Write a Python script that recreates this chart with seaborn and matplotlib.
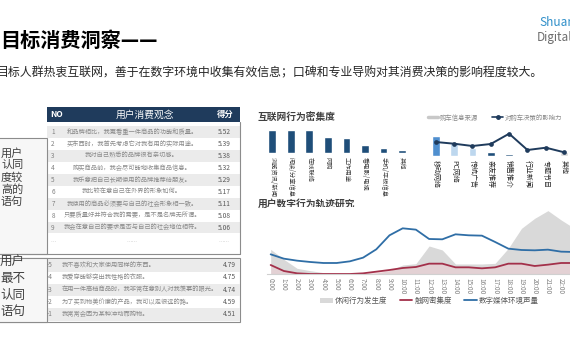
import numpy as np
import pandas as pd
import matplotlib
matplotlib.use("Agg")
import matplotlib.pyplot as plt
import seaborn as sns
from matplotlib.lines import Line2D
from matplotlib.patches import Rectangle, Patch

# ---- data -------------------------------------------------------------
high_no = [1, 2, 3, 4, 5, 6, 7, 8, 9]
high_items = [
    "和品牌相比，我更看重一件商品的功能和质量。",
    "买东西时，我首先考虑它对我有用的实际用途。",
    "我对自己熟悉的品牌很有亲切感。",
    "购买商品前，我会尽可能地收集商品信息。",
    "我乐意把自己长期使用的品牌推荐给朋友。",
    "我比较在意自己在外界的形象如何。",
    "我使用的商品必须要与自己的社会形象相一致。",
    "只要质量好并符合我的需要，是不是名牌无所谓。",
    "我会在意自己的要求是否与自己的社会地位相符。",
]
high_scores = [5.52, 5.39, 5.38, 5.32, 5.29, 5.17, 5.11, 5.08, 5.06]

low_no = [-5, -4, -3, -2, -1]
low_items = [
    "我不喜欢和大家使用同样的东西。",
    "我爱穿能够突出我性格的衣服。",
    "在用一件高档商品时，我非常在意别人对我羡慕的眼光。",
    "为了买到物美价廉的产品，我可以走很远的路。",
    "我常常会因为某种冲动而购物。",
]
low_scores = [4.79, 4.75, 4.74, 4.59, 4.51]

net_labels = ["浏览资讯/新闻", "阅读/分享信息", "在线联络", "网购", "工作用途",
              "看电影/电视", "手机/平板信息", "其他"]
net_values = [23.1, 22.9, 22.6, 16.2, 14.8, 8.1, 4.9, 3.0]

src_labels = ["移动网络", "PC网络", "传统广告", "亲友推荐", "销售推介",
              "行业新闻", "专题节目", "其他"]
src_share = [20.0, 13.3, 8.0, 4.0, 2.0, 1.0, 0.8, 3.5]
src_influence = [13.7, 12.0, 9.7, 11.7, 22.0, 5.7, 8.0, 3.4]

hours = [f"{h}:00" for h in range(24)]
leisure = [74, 44, 17, 10, 4, 2, 1, 1, 3, 10, 27, 31, 84, 72, 30, 30, 30, 32,
           77, 137, 167, 190, 162, 137]
touch = [27, 9, 2, 0, 0, 0, 0, 2, 7, 12, 18, 21, 31, 31, 20, 20, 17, 20,
         31, 31, 24, 28, 33, 33]
media = [59, 46, 40, 36, 33, 33, 38, 49, 74, 116, 137, 133, 105, 104, 119,
         116, 115, 96, 76, 72, 71, 73, 67, 66]

# ---- style ------------------------------------------------------------
sns.set_style("white")
plt.rcParams["font.family"] = ["Noto Sans CJK SC", "DejaVu Sans"]

W, H = 570, 360
NAVY = "#1f3b5c"
src_colors = ["#4f8fcf", "#bdd7ee", "#bdd7ee", "#1f4e79", "#1f4e79",
              "#d9d9d9", "#d9d9d9", "#d9d9d9"]


def rect(x0, y0, x1, y1):
    return [x0 / W, 1 - y1 / H, (x1 - x0) / W, (y1 - y0) / H]


fig = plt.figure(figsize=(W / 100, H / 100), dpi=100)

# background canvas in pixel coords for titles and the table
bg = fig.add_axes([0, 0, 1, 1])
bg.set_xlim(0, W)
bg.set_ylim(H, 0)
bg.axis("off")

bg.text(0, 40, "目标消费洞察——", fontsize=14.5, fontweight="bold",
        color="black", va="center", ha="left")
bg.text(-4, 73, "目标人群热衷互联网，善于在数字环境中收集有效信息；口碑和专业导购对其消费决策的影响程度较大。",
        fontsize=8.6, color="#262626", va="center", ha="left")
# logo
bg.text(539, 23, "Shuan", fontsize=8.5, color="#2f8fc9", va="center", ha="left")
bg.text(537, 37, "Digital", fontsize=8.5, color="#6d6d6d", va="center", ha="left")

# ---- table (upper block) ---------------------------------------------
gray_line = "#8c8c8c"
bg.add_patch(Rectangle((47, 107), 193, 15, color=NAVY, lw=0))
bg.text(50, 114.5, "NO", fontsize=6, color="white", fontweight="bold",
        style="italic", va="center")
bg.text(145, 114.5, "用户消费观念", fontsize=7, color="white", va="center", ha="center")
bg.text(225, 114.5, "得分", fontsize=6, color="white", fontweight="bold",
        va="center", ha="center")

row_h = 11.9
for i, (no, item, sc) in enumerate(zip(high_no, high_items, high_scores)):
    yc = 132.3 + i * row_h
    if i % 2 == 0:
        bg.add_patch(Rectangle((47, yc - row_h / 2), 193, row_h, color="#ebebeb", lw=0))
    bg.text(53, yc, str(no), fontsize=4.6, color="#7f7f7f", va="center", ha="center")
    bg.text(132, yc, item, fontsize=4.5, color="#8a8a8a", va="center", ha="center")
    bg.text(224, yc, f"{sc:.2f}", fontsize=4.8, color="#595959", va="center", ha="center")
dots_y = 132.3 + 9 * row_h + 3
bg.text(53, dots_y, "…", fontsize=4, color="#a6a6a6", va="center", ha="center")
bg.text(132, dots_y, "……", fontsize=4, color="#a6a6a6", va="center", ha="center")
bg.text(224, dots_y, "……", fontsize=4, color="#a6a6a6", va="center", ha="center")

bg.add_patch(Rectangle((-2, 138), 48.5, 116, facecolor="#f7f7f7",
                       edgecolor=gray_line, lw=0.8))
bg.plot([240, 240], [122, 254], color=gray_line, lw=0.8)
bg.plot([-2, 240], [254, 254], color=gray_line, lw=0.8)
for j, t in enumerate(["用户", "认同", "度较", "高的", "语句"]):
    bg.text(1, 153 + j * 12.2, t, fontsize=8, color="#404040", va="center", ha="left")

# ---- table (lower block) ---------------------------------------------
row_h2 = 12.3
bg.add_patch(Rectangle((-2, 258), 242, 64, facecolor="white",
                       edgecolor=gray_line, lw=0.8))
for i, (no, item, sc) in enumerate(zip(low_no, low_items, low_scores)):
    yc = 265 + i * row_h2
    if i % 2 == 0:
        bg.add_patch(Rectangle((47, yc - row_h2 / 2 + 0.4), 192.5, row_h2, color="#ebebeb", lw=0))
    bg.text(50, yc, str(no), fontsize=4.6, color="#7f7f7f", va="center", ha="center")
    bg.text(62, yc, item, fontsize=4.5, color="#8a8a8a", va="center", ha="left")
    bg.text(236, yc, f"{sc:.2f}", fontsize=4.8, color="#595959", va="center", ha="right")
bg.add_patch(Rectangle((-2, 258), 48.5, 64, facecolor="#f7f7f7",
                       edgecolor=gray_line, lw=0.8))
for j, t in enumerate(["用户", "最不", "认同", "语句"]):
    bg.text(0, 262 + j * 16.5, t, fontsize=9, color="#404040", va="center", ha="left")

# ---- internet behaviour bars -----------------------------------------
bg.text(258, 117, "互联网行为密集度", fontsize=7, fontweight="bold",
        color="#404040", va="center", ha="left")
ax1 = fig.add_axes(rect(263, 127, 411.3, 153))
sns.barplot(x=net_labels, y=net_values, color="#1f4e79", width=0.42,
            saturation=1, ax=ax1)
ax1.set_ylim(0, 26)
ax1.set_xlim(-0.5, 7.5)
ax1.set_xlabel("")
ax1.set_ylabel("")
ax1.set_yticks([])
ax1.tick_params(axis="x", length=0, pad=3)
ax1.set_xticks(range(len(net_labels)))
ax1.set_xticklabels(net_labels, rotation=-90, fontsize=4.5, color="#404040",
                    va="top", ha="center")
sns.despine(ax=ax1, left=True, bottom=True)

# ---- car info sources -------------------------------------------------
ax2 = fig.add_axes(rect(426.5, 131.7, 573.4, 155.7))
sns.barplot(x=src_labels, y=src_share, hue=src_labels, palette=src_colors,
            width=0.42, saturation=1, legend=False, ax=ax2)
sns.lineplot(x=np.arange(len(src_labels)), y=src_influence, color="#1f3b5c",
             marker="o", markersize=3.4, markeredgewidth=0, lw=1.4, ax=ax2)
ax2.set_ylim(0, 24)
ax2.set_xlim(-0.5, 7.5)
ax2.set_xlabel("")
ax2.set_ylabel("")
ax2.set_yticks([])
ax2.tick_params(axis="x", length=0, pad=3)
ax2.set_xticks(range(len(src_labels)))
ax2.set_xticklabels(src_labels, rotation=-90, fontsize=5, color="#262626",
                    va="top", ha="center")
sns.despine(ax=ax2, left=True, bottom=True)

src_handles = [
    Line2D([0], [0], color="#c8c8c8", lw=2.5),
    Line2D([0], [0], color="#1f3b5c", lw=1.2, marker="o", markersize=2.5),
]
fig.legend(src_handles, ["购车信息来源", "对购车决策的影响力"], loc="center left",
           bbox_to_anchor=(428 / W, 1 - 117.5 / H), ncol=2, frameon=False,
           fontsize=4.6, labelcolor="#8a8a8a", handlelength=1.6,
           handletextpad=0.3, columnspacing=2.2, borderpad=0, borderaxespad=0)

# ---- digital behaviour trajectory ------------------------------------
bg.text(258, 204, "用户数字行为轨迹研究", fontsize=7, fontweight="bold",
        color="#404040", va="center", ha="left")
ax3 = fig.add_axes(rect(266.7, 207.3, 578.3, 274))
x = np.arange(len(hours))
ax3.fill_between(x, leisure, 0, color="#d9d9d9", lw=0)
ax3.fill_between(x, touch, 0, color="#f0c8d0", alpha=0.45, lw=0)
sns.lineplot(x=x, y=touch, color="#a3304a", lw=1.3, ax=ax3)
sns.lineplot(x=x, y=media, color="#2f6ea6", lw=1.3, ax=ax3)
if ax3.get_legend() is not None:
    ax3.get_legend().remove()
ax3.set_xlim(-0.3, 23.3)
ax3.set_ylim(0, 200)
ax3.set_yticks([])
ax3.set_xticks(x)
ax3.set_xticklabels(hours, rotation=-90, fontsize=4.6, color="#7f7f7f",
                    va="top", ha="center")
ax3.tick_params(axis="x", length=0, pad=3)
ax3.set_xlabel("")
ax3.set_ylabel("")
sns.despine(ax=ax3, left=True)
ax3.spines["bottom"].set_color("#d0d0d0")
ax3.spines["bottom"].set_linewidth(0.8)

traj_handles = [
    Patch(facecolor="#d9d9d9", edgecolor="none"),
    Line2D([0], [0], color="#a3304a", lw=1.3),
    Line2D([0], [0], color="#2f6ea6", lw=1.3),
]
fig.legend(traj_handles, ["休闲行为发生度", "触网密集度", "数字媒体环境声量"],
           loc="center left", bbox_to_anchor=(320 / W, 1 - 301 / H), ncol=3,
           frameon=False, fontsize=5.4, labelcolor="#595959", handlelength=1.7,
           handleheight=0.6, handletextpad=0.3, columnspacing=1.6,
           borderpad=0, borderaxespad=0)

fig.savefig("out.png", dpi=100)
